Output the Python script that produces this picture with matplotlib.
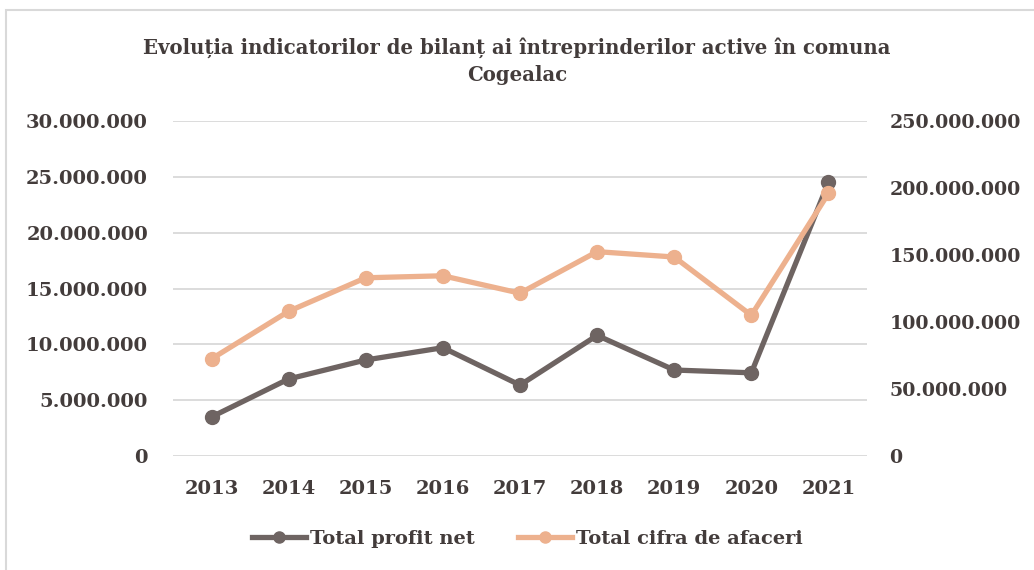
import matplotlib.pyplot as plt

ani = ['2013', '2014', '2015', '2016', '2017', '2018', '2019', '2020', '2021']
profit_net = [3.5e6, 6.9e6, 8.6e6, 9.7e6, 6.35e6, 10.8e6, 7.7e6, 7.45e6, 24.5e6]
cifra_afaceri = [72.5e6, 108e6, 133e6, 134.5e6, 121.5e6, 152.5e6, 148.5e6, 105e6, 196e6]

ticks_st = [0, 5e6, 10e6, 15e6, 20e6, 25e6, 30e6]
ticks_dr = [0, 50e6, 100e6, 150e6, 200e6, 250e6]

c_profit = '#6e6462'
c_cifra = '#edb18e'
c_text = '#433c3b'


def fmt(v):
    return '{:,.0f}'.format(v).replace(',', '.')


plt.rcParams['font.family'] = 'DejaVu Serif'
plt.rcParams['font.weight'] = 'bold'

fig = plt.figure(figsize=(10.34, 5.7), dpi=100)
ax = fig.add_axes([0.1673, 0.2, 0.6712, 0.5877])
ax2 = ax.twinx()

x = list(range(len(ani)))
l1, = ax.plot(x, profit_net, color=c_profit, lw=3.8, marker='o', ms=10, label='Total profit net', zorder=3)
l2, = ax2.plot(x, cifra_afaceri, color=c_cifra, lw=3.8, marker='o', ms=10, label='Total cifra de afaceri', zorder=3)

ax.set_xlim(-0.5, len(ani) - 0.5)
ax.set_ylim(0, 30e6)
ax2.set_ylim(0, 250e6)
ax.set_yticks(ticks_st)
ax.set_yticklabels([fmt(v) for v in ticks_st])
ax2.set_yticks(ticks_dr)
ax2.set_yticklabels([fmt(v) for v in ticks_dr])
ax.set_xticks(x)
ax.set_xticklabels(ani)

for a in (ax, ax2):
    for s in a.spines.values():
        s.set_visible(False)
    a.tick_params(length=0, labelsize=14, colors=c_text)
ax.tick_params(axis='y', pad=18)
ax2.tick_params(axis='y', pad=16, labelsize=13.7)
ax.tick_params(axis='x', pad=17)
ax.grid(axis='y', color='#d9d9d9', lw=1.3)
ax.set_axisbelow(True)

fig.text(0.5, 0.893, 'Evoluția indicatorilor de bilanț ai întreprinderilor active în comuna\nCogealac',
         ha='center', va='center', fontsize=14.2, color=c_text, linespacing=1.45)

fig.legend(handles=[l1, l2], loc='center', bbox_to_anchor=(0.51, 0.055), ncol=2, frameon=False,
           fontsize=14, labelcolor=c_text, handlelength=2.8, columnspacing=2.2, handletextpad=0.2,
           markerscale=0.8)

fig.patches.append(plt.Rectangle((0.006, -0.05), 1.1, 1.033, transform=fig.transFigure,
                                 fill=False, edgecolor='#d9d9d9', lw=1.5))

plt.savefig('out.png')
